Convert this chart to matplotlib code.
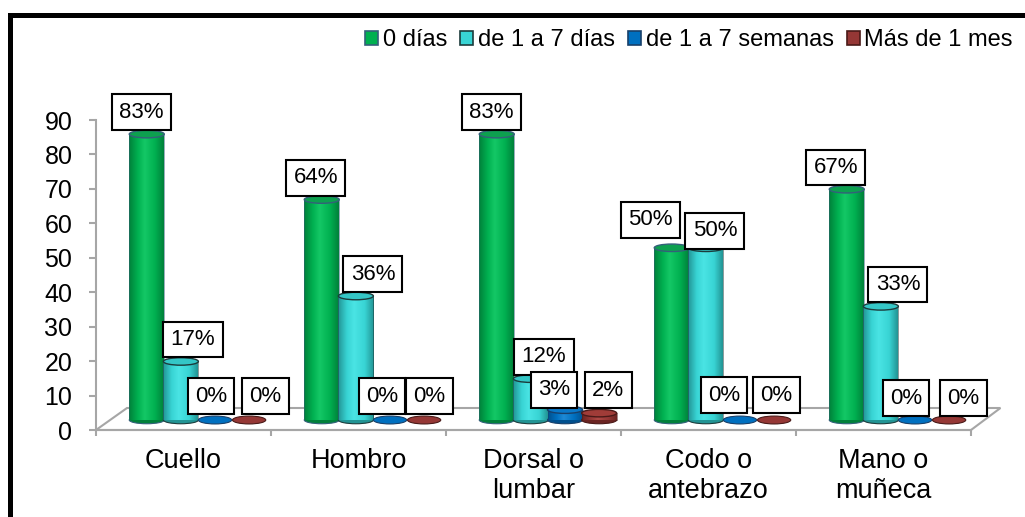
import numpy as np
import matplotlib
matplotlib.use('Agg')
import matplotlib.pyplot as plt
from matplotlib.patches import Ellipse, Polygon, Rectangle, Patch
from matplotlib.colors import LinearSegmentedColormap

# ---------------- data ----------------
categories = ['Cuello', 'Hombro', 'Dorsal o\nlumbar', 'Codo o\nantebrazo', 'Mano o\nmuñeca']
series_names = ['0 días', 'de 1 a 7 días', 'de 1 a 7 semanas', 'Más de 1 mes']
dias_0 = [83, 64, 83, 50, 67]
dias_1_7 = [17, 36, 12, 50, 33]
semanas_1_7 = [0, 0, 3, 0, 0]
mas_1_mes = [0, 0, 2, 0, 0]
yticks = [0, 10, 20, 30, 40, 50, 60, 70, 80, 90]

series = [dias_0, dias_1_7, semanas_1_7, mas_1_mes]

# ---------------- style ----------------
plt.rcParams['font.family'] = ['Liberation Sans', 'DejaVu Sans']
styles = [
    dict(base='#00B050', light='#14C866', dark='#00803A', top='#0DA04F', edge='#34607A'),
    dict(base='#38D4D4', light='#4AE4E4', dark='#229494', top='#34C6C6', edge='#1C3C3C'),
    dict(base='#0070C0', light='#1F8AD6', dark='#00508E', top='#0A78C8', edge='#18406A'),
    dict(base='#953735', light='#B04A46', dark='#6B2422', top='#A03C38', edge='#4A1A18'),
]
GRAY = '#A6A6A6'
LABEL_FS = 16
LABEL_PAD = 0.33

W, H = 1025, 517
fig = plt.figure(figsize=(W / 100, H / 100), dpi=100)
ax = fig.add_axes([96 / W, (H - 430) / H, 875 / W, 310 / H])

px_x = 875 / 5.0
px_y = 310 / 90.0
bar_w = 0.2
ell_h = 7.5 / px_y
base = 2.9
depth_dx = 31 / px_x
depth_dy = 22 / px_y

# floor
floor = Polygon([(0, 0), (5, 0), (5 + depth_dx * 0.95, depth_dy), (depth_dx, depth_dy)],
                closed=True, fc='white', ec=GRAY, lw=1.5, zorder=1, clip_on=False)
ax.add_patch(floor)

# label nudges (pixels)
nudge_x = [[-5, -6, -5, -21, -11], [12, 17, 13, 9, 17], [-4, -8, -11, -16, -9], [16, 5, 9, 2, 14]]
lift = [[0, 0, 0, 6, 0], [0, 0, 0, -5, 0], [2, 2, -2, 3, 0], [2, 2, 1, 3, 0]]

grad = np.linspace(0, 1, 128)[None, :]
for j, vals in enumerate(series):
    st = styles[j]
    cm = LinearSegmentedColormap.from_list(
        f'c{j}', [(0, st['dark']), (0.25, st['base']), (0.45, st['light']),
                  (0.75, st['base']), (1, st['dark'])])
    for i, v in enumerate(vals):
        xc = i + 0.29 + 0.195 * j
        top = base + v
        z = 3 + j * 3
        if v > 0:
            ax.add_patch(Ellipse((xc, base), bar_w, ell_h, fc=st['dark'], ec=st['edge'],
                                 lw=0.8, zorder=z))
            ax.imshow(grad, cmap=cm, extent=(xc - bar_w / 2, xc + bar_w / 2, base, top),
                      aspect='auto', origin='lower', interpolation='bilinear', zorder=z + 0.5)
            ax.plot([xc - bar_w / 2, xc - bar_w / 2], [base, top], color=st['edge'], lw=0.6,
                    alpha=0.6, zorder=z + 0.6)
            ax.plot([xc + bar_w / 2, xc + bar_w / 2], [base, top], color=st['edge'], lw=0.6,
                    alpha=0.6, zorder=z + 0.6)
            ax.add_patch(Ellipse((xc, top), bar_w, ell_h, fc=st['top'], ec=st['edge'],
                                 lw=1.0, zorder=z + 1))
        else:
            ax.add_patch(Ellipse((xc, base), bar_w * 0.95, ell_h * 1.05, fc=st['base'],
                                 ec=st['edge'], lw=0.8, zorder=z))
        off_y = (4 + lift[j][i]) * 0.72 + LABEL_PAD * LABEL_FS
        ax.annotate(f'{v}%', xy=(xc, top), xytext=(nudge_x[j][i] * 0.72, off_y),
                    textcoords='offset points', ha='center', va='bottom', fontsize=LABEL_FS,
                    bbox=dict(boxstyle=f'square,pad={LABEL_PAD}', fc='white', ec='black', lw=1.5),
                    zorder=60, annotation_clip=False)

ax.set_xlim(0, 5)
ax.set_ylim(0, 90)

for s in ['top', 'right']:
    ax.spines[s].set_visible(False)
for s in ['left', 'bottom']:
    ax.spines[s].set_color(GRAY)
    ax.spines[s].set_linewidth(1.5)
    ax.spines[s].set_zorder(2)
ax.patch.set_alpha(0)

ax.set_yticks(yticks)
ax.set_yticklabels([str(t) for t in yticks])
ax.tick_params(axis='y', length=5, width=1.5, color=GRAY, pad=12, labelsize=18)
ax.set_xticks(range(6))
ax.set_xticklabels([])
ax.tick_params(axis='x', which='major', length=4.5, width=1.5, color=GRAY)
ax.set_xticks(np.arange(5) + 0.5, minor=True)
ax.set_xticklabels(categories, minor=True)
ax.tick_params(axis='x', which='minor', length=0, pad=13, labelsize=19.5)

handles = [Patch(fc=st['base'], ec=st['edge'], lw=1.2) for st in styles]
fig.legend(handles, series_names, loc='center right', ncol=4, frameon=False,
           bbox_to_anchor=(1013 / W, (H - 40) / H), bbox_transform=fig.transFigure,
           fontsize=17, handlelength=0.55, handleheight=0.55, handletextpad=0.2,
           columnspacing=0.55, borderaxespad=0, borderpad=0)

# outer frame
fig.patches.append(Rectangle((9.5 / W, -0.1), 1.2, (1 - 14.5 / H) + 0.1, transform=fig.transFigure,
                             fill=False, ec='black', lw=3.6, clip_on=False))

fig.savefig('out.png', dpi=100)
